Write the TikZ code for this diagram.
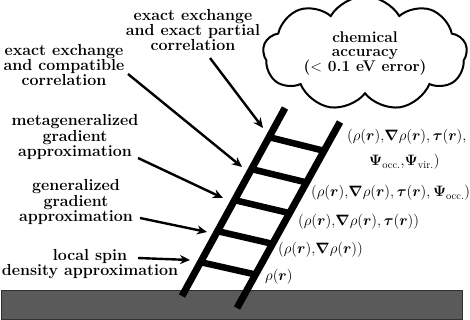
\RequirePackage{fix-cm}
\documentclass[tikz,border=0pt]{standalone}
\usepackage{amsmath,amssymb,bm}
\usepackage{tikz}
\usetikzlibrary{positioning,arrows.meta,shapes.symbols,calc}
\usepackage{xcolor}
\definecolor{groundgray}{HTML}{5A5A5A}
\definecolor{groundedge}{HTML}{303030}

\begin{document}
\begin{tikzpicture}[x=1pt, y=-1pt,
  rung/.style={line width=6.5pt, line cap=butt},
  rail/.style={line width=7pt, line cap=butt},
  rungname/.style={align=center, font=\fontsize{16}{13.8}\selectfont\bfseries,
                   inner sep=0pt},
  dens/.style={anchor=west, inner sep=0pt, font=\fontsize{15}{18}\selectfont},
  pointer/.style={line width=2.4pt, -{Stealth[length=10pt,width=9pt]}},
  ]
  \useasboundingbox (0,0) rectangle (470,320);

  % ground
  \filldraw[fill=groundgray, draw=groundedge, line width=1pt]
    (1.5,290.5) rectangle (462,319.5);

  % ladder
  \coordinate (lb) at (182,296);
  \coordinate (lt) at (285,108);
  \coordinate (rb) at (237,308);
  \coordinate (rt) at (340,122);
  \draw[rail] (lb) -- (lt);
  \draw[rail] (rb) -- (rt);
  \foreach \t in {0.18,0.345,0.51,0.675,0.845}
    \draw[rung] ($(lb)!\t!(lt)$) -- ($(rb)!\t!(rt)$);

  % goal
  \node[cloud, draw, line width=2pt, cloud puffs=9, cloud puff arc=120,
        aspect=2.2, minimum width=204pt, minimum height=88pt,
        align=center, font=\fontsize{15.5}{14.8}\selectfont\bfseries]
    (goal) at (365,53.5)
    {chemical\\ accuracy\\ ($<$ 0.1 eV error)};

  % rungs, left side
  \node[rungname] (eep) at (193,30)
    {exact exchange\\ and exact partial\\ correlation};
  \node[rungname] (eec) at (64,65)
    {exact exchange\\ and compatible\\ correlation};
  \node[rungname] (mgga) at (75,137)
    {metageneralized\\ gradient\\ approximation};
  \node[rungname] (gga) at (76,202)
    {generalized\\ gradient\\ approximation};
  \node[rungname] (lsd) at (90,264)
    {local spin\\ density approximation};

  % ingredients, right side
  \node[dens] (d1) at (265,277) {$\rho(\bm r)$};
  \node[dens] (d2) at (278,250) {$(\rho(\bm r){,}\bm\nabla\rho(\bm r))$};
  \node[dens] (d3) at (298,222)
    {$(\rho(\bm r){,}\bm\nabla\rho(\bm r),\bm\tau(\bm r))$};
  \node[dens] (d4) at (311,193)
    {$(\rho(\bm r){,}\bm\nabla\rho(\bm r),\bm\tau(\bm r),\bm\Psi_{\text{occ.}})$};
  \node[dens] (d5) at (347,137)
    {$(\rho(\bm r){,}\bm\nabla\rho(\bm r),\bm\tau(\bm r),$};
  \node[dens] (d5b) at (369,162) {$\bm\Psi_{\text{occ.}}{,}\bm\Psi_{\text{vir.}})$};

  % pointers
  \coordinate (t1) at (263,128);
  \coordinate (t2) at (242,167);
  \coordinate (t3) at (223,198);
  \coordinate (t4) at (207,232);
  \coordinate (t5) at (190,260);
  \draw[pointer] ([xshift=17pt,yshift=-28pt]eep.center) -- (t1);
  \draw[pointer] ([xshift=64pt,yshift=-9pt]eec.center) -- (t2);
  \draw[pointer] ([xshift=63pt,yshift=-21pt]mgga.center) -- (t3);
  \draw[pointer] ([xshift=64pt,yshift=-16pt]gga.center) -- (t4);
  \draw[pointer] ([xshift=48pt,yshift=6pt]lsd.center) -- (t5);
\end{tikzpicture}
\end{document}
